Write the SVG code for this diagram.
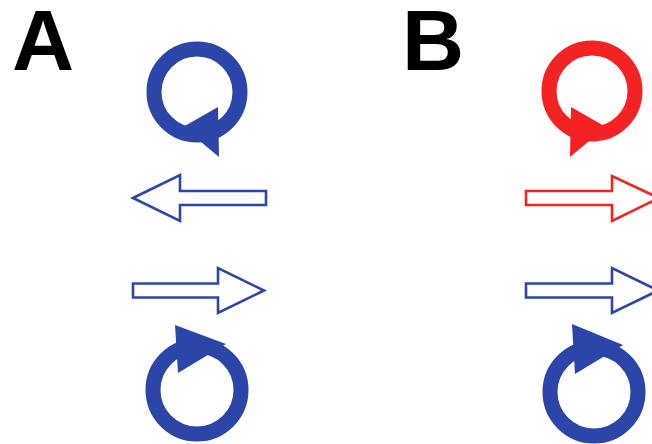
<svg xmlns="http://www.w3.org/2000/svg" width="652" height="444" viewBox="0 0 652 444">
<style>
.lbl{font-family:"Liberation Sans",Arial,sans-serif;font-weight:bold;font-size:86px;fill:#000}
.ringB{fill:none;stroke:#2b45a8;stroke-width:15}
.ringR{fill:none;stroke:#f42222;stroke-width:15}
.headB{fill:#2b45a8}
.headR{fill:#f42222}
.outB{fill:#fff;stroke:#2b45a8;stroke-width:2.6;stroke-linejoin:miter}
.outR{fill:#fff;stroke:#f42222;stroke-width:2.6;stroke-linejoin:miter}
</style>
<rect width="652" height="444" fill="#fff"/>
<g id="label-A"><text class="lbl" x="12" y="70">A</text></g>
<g id="label-B"><text class="lbl" x="402" y="70">B</text></g>

<g id="A-top-cycle">
  <circle class="ringB" cx="197" cy="92" r="43"/>
  <polygon class="headB" points="218,107 219,157 183,127"/>
</g>
<g id="A-bottom-cycle">
  <circle class="ringB" cx="197" cy="390" r="44"/>
  <polygon class="headB" points="175,325 226,344 178,373"/>
</g>
<g id="B-top-cycle">
  <circle class="ringR" cx="592" cy="91" r="43"/>
  <polygon class="headR" points="571,107 570,157 606,127"/>
</g>
<g id="B-bottom-cycle">
  <circle class="ringB" cx="594" cy="392" r="44"/>
  <polygon class="headB" points="572,324 623,345 575,374"/>
</g>

<g id="connectors">
  <polygon class="outB" points="133,198 180,175 180,191 266,191 266,205 180,205 180,221"/>
  <polygon class="outB" points="133,283.5 218,283.5 218,268 264,290.5 218,313 218,297.5 133,297.5"/>
  <polygon class="outR" points="526,191 612,191 612,176 659,198 612,221 612,205 526,205"/>
  <polygon class="outB" points="526,283.5 612,283.5 612,268 658,290.5 612,313 612,297.5 526,297.5"/>
</g>
</svg>
